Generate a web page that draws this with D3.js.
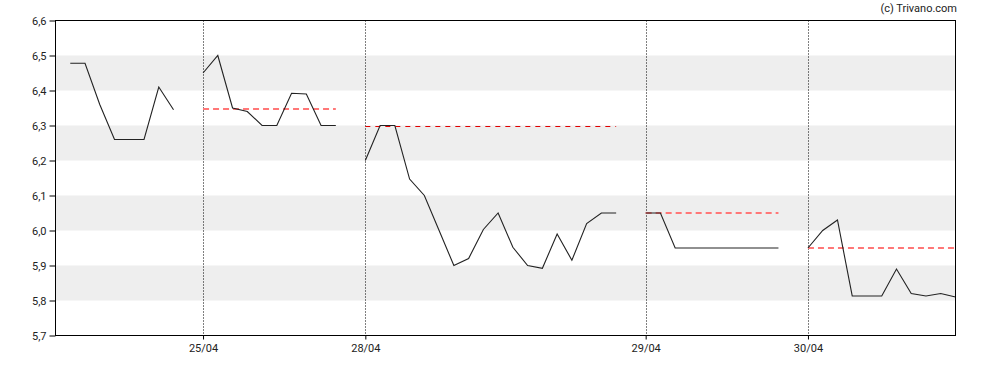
<!DOCTYPE html>
<html>
<head>
<meta charset="utf-8">
<script src="https://cdn.jsdelivr.net/npm/d3@7"></script>
<style>
  body { margin: 0; background: #fff; }
  svg { display: block; font-family: Roboto, "Liberation Sans", Arial, sans-serif; }
</style>
</head>
<body>
<svg width="988" height="370"></svg>
<script>
// price per slot, one array per trading day
var day1 = [6.478, 6.478, 6.36, 6.26, 6.26, 6.26, 6.41, 6.345];
var day2 = [6.45, 6.50, 6.35, 6.34, 6.30, 6.30, 6.392, 6.39, 6.30, 6.30];
var day3 = [6.20, 6.30, 6.30, 6.147, 6.10, 6.00, 5.90, 5.92, 6.003, 6.05, 5.952, 5.90, 5.892, 5.99, 5.915, 6.02, 6.05, 6.05];
var day4 = [6.05, 6.05, 5.95, 5.95, 5.95, 5.95, 5.95, 5.95, 5.95, 5.95];
var day5 = [5.95, 6.00, 6.03, 5.813, 5.813, 5.813, 5.89, 5.82, 5.813, 5.82, 5.81];
var dayStart = [0, 9, 20, 39, 50];
var dayLabels = [null, "25/04", "28/04", "29/04", "30/04"];
// reference level per day (dashed), and the end slot of the dash
var refLevel = [null, 6.347, 6.30, 6.05, 5.95];
var refEnd = [null, 18, 37, 48, 60];
var yTicks = [5.7, 5.8, 5.9, 6.0, 6.1, 6.2, 6.3, 6.4, 6.5, 6.6];
var bands = [[5.8, 5.9], [6.0, 6.1], [6.2, 6.3], [6.4, 6.5]];

var days = [day1, day2, day3, day4, day5];

var svg = d3.select("svg");
var pLeft = 55.5, pRight = 955.5, pTop = 20.5, pBottom = 335.5;

var x = d3.scaleLinear().domain([-1, 60]).range([pLeft, pRight]);
var y = d3.scaleLinear().domain([5.7, 6.6]).range([pBottom, pTop]);

// grey bands
svg.append("g").selectAll("rect")
  .data(bands)
  .enter().append("rect")
    .attr("x", pLeft)
    .attr("width", pRight - pLeft)
    .attr("y", function(d) { return y(d[1]); })
    .attr("height", function(d) { return y(d[0]) - y(d[1]); })
    .attr("fill", "#eeeeee");

// dotted day separators
svg.append("g").selectAll("line")
  .data(dayStart.slice(1))
  .enter().append("line")
    .attr("x1", function(d) { return Math.round(x(d)) + 0.5; })
    .attr("x2", function(d) { return Math.round(x(d)) + 0.5; })
    .attr("y1", pTop)
    .attr("y2", pBottom)
    .attr("stroke", "#000")
    .attr("stroke-width", 1)
    .attr("stroke-dasharray", "1,2");

// reference dashed lines
var refs = [];
refLevel.forEach(function(v, i) {
  if (v != null) refs.push({ i: i, v: v, a: dayStart[i], b: refEnd[i] });
});
svg.append("g").selectAll("line")
  .data(refs)
  .enter().append("line")
    .attr("x1", function(d) { return x(d.a); })
    .attr("x2", function(d) { return x(d.b); })
    .attr("y1", function(d) { return d.i == 2 ? Math.round(y(d.v)) + 0.5 : y(d.v); })
    .attr("y2", function(d) { return d.i == 2 ? Math.round(y(d.v)) + 0.5 : y(d.v); })
    .attr("stroke", function(d) { return d.i == 2 ? "#e00000" : "#f77"; })
    .attr("stroke-width", function(d) { return d.i == 2 ? 1 : 2; })
    .attr("stroke-dasharray", function(d) { return d.i == 2 ? "5,5" : "6,4"; });

// price lines
var line = d3.line()
  .x(function(d) { return x(d.k); })
  .y(function(d) { return y(d.v); });

svg.append("g").selectAll("path")
  .data(days.map(function(arr, i) {
    return arr.map(function(v, j) { return { k: dayStart[i] + j, v: v }; });
  }))
  .enter().append("path")
    .attr("d", line)
    .attr("fill", "none")
    .attr("stroke", "#222")
    .attr("stroke-width", 1.1);

// frame
svg.append("rect")
  .attr("x", pLeft).attr("y", pTop)
  .attr("width", pRight - pLeft).attr("height", pBottom - pTop)
  .attr("fill", "none")
  .attr("stroke", "#000")
  .attr("stroke-width", 1);

// y axis
var yAxis = d3.axisLeft(y)
  .tickValues(yTicks)
  .tickSize(6)
  .tickPadding(3)
  .tickFormat(function(d) { return d3.format(".1f")(d).replace(".", ","); });
var gy = svg.append("g").attr("transform", "translate(" + pLeft + ",0)").call(yAxis);
gy.select(".domain").remove();
gy.selectAll("text").attr("font-size", 11).attr("fill", "#222").attr("font-family", "Roboto, sans-serif");

// x axis
var xAxis = d3.axisBottom(x)
  .tickValues(dayStart.slice(1))
  .tickSize(4)
  .tickPadding(5)
  .tickFormat(function(d) { return dayLabels[dayStart.indexOf(d)]; });
var gx = svg.append("g").attr("transform", "translate(0," + pBottom + ")").call(xAxis);
gx.select(".domain").remove();
gx.selectAll("text").attr("font-size", 11).attr("fill", "#222").attr("font-family", "Roboto, sans-serif");

svg.append("text")
  .attr("x", 957)
  .attr("y", 12)
  .attr("text-anchor", "end")
  .attr("font-size", 11)
  .attr("fill", "#222")
  .text("(c) Trivano.com");
</script>
</body>
</html>
